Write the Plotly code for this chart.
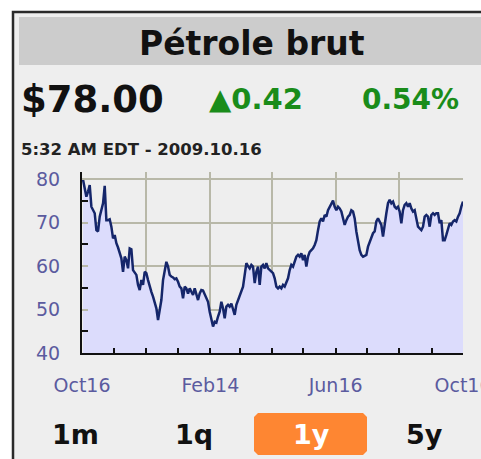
import pandas as pd
import plotly.graph_objects as go

# ---------------- data ----------------
start_date = "2008-10-17"
end_date = "2009-10-16"
prices = [
    79.9, 78.0, 76.0, 77.2, 78.7, 73.7, 72.9, 72.2, 68.3, 68.0,
    71.4, 72.9, 74.5, 78.5, 70.6, 70.6, 70.8, 69.1, 66.4, 67.2,
    65.3, 64.3, 63.0, 61.8, 58.7, 62.2, 61.4, 59.5, 64.1, 63.9,
    59.1, 58.4, 58.0, 55.7, 54.5, 56.8, 55.7, 58.7, 58.4, 56.8,
    55.3, 54.1, 53.0, 51.4, 50.3, 47.6, 49.5, 52.2, 56.8, 58.7,
    61.0, 59.9, 58.0, 57.6, 57.4, 57.0, 57.2, 56.4, 55.3, 54.9,
    52.6, 55.3, 54.9, 53.7, 54.9, 54.1, 53.4, 54.9, 53.7, 52.2,
    53.7, 54.5, 54.4, 53.4, 52.6, 51.8, 49.5, 47.6, 46.1, 47.2,
    47.0, 48.4, 49.5, 51.8, 50.3, 48.0, 50.7, 51.1, 50.7, 51.4,
    50.3, 48.8, 51.1, 52.2, 53.0, 54.5, 55.3, 58.0, 60.7, 60.0,
    59.5, 60.3, 59.9, 56.1, 58.7, 59.9, 55.7, 59.9, 60.3, 59.5,
    60.7, 59.5, 59.1, 58.7, 58.4, 57.2, 55.3, 54.9, 55.3, 54.9,
    55.7, 55.3, 56.1, 57.2, 59.1, 60.3, 59.9, 61.4, 62.2, 62.6,
    62.2, 63.0, 61.4, 62.6, 59.9, 62.2, 63.3, 63.7, 64.1, 64.9,
    66.0, 68.3, 70.3, 71.0, 70.3, 71.8, 71.4, 72.9, 73.7, 74.5,
    75.1, 73.7, 72.9, 73.7, 73.3, 72.6, 71.0, 69.5, 70.6, 71.4,
    71.8, 72.9, 72.6, 71.0, 68.0, 65.3, 63.7, 62.6, 62.2, 62.4,
    62.6, 64.5, 65.7, 66.4, 67.6, 68.0, 70.3, 71.0, 70.3, 69.5,
    66.8, 70.3, 72.2, 74.5, 75.3, 74.5, 74.9, 73.7, 73.3, 73.7,
    72.6, 69.9, 72.9, 74.1, 74.5, 73.7, 74.5, 73.3, 72.6, 72.9,
    71.0, 69.1, 68.7, 68.3, 69.1, 71.4, 71.8, 71.4, 69.1, 71.8,
    72.2, 71.8, 72.2, 72.2, 69.9, 70.6, 66.0, 66.0, 67.2, 68.7,
    69.9, 69.5, 70.3, 70.6, 70.3, 71.4, 72.2, 73.7, 74.9,
]
dates = pd.date_range(start_date, end_date, periods=len(prices))

grid_dates = ["2008-10-16", "2008-12-16", "2009-02-16", "2009-04-16",
              "2009-06-16", "2009-08-16", "2009-10-16"]
grid_labels = ["Oct16", "", "Feb14", "", "Jun16", "", "Oct16"]
month_dates = ["2008-11-16", "2009-01-16", "2009-03-16", "2009-05-16",
               "2009-07-16", "2009-09-16"]
y_tickvals = [40, 50, 60, 70, 80]
y_ticktext = ["40", "50", "60", "70", "80"]
y_minor = [45, 55, 65, 75]

title_text = "Pétrole brut"
price_text = "$78.00"
change_text = "▲0.42"
pct_text = "0.54%"
time_text = "5:32 AM EDT - 2009.10.16"
buttons = ["1m", "1q", "1y", "5y"]
active_button = "1y"

# ---------------- figure ----------------
W, H = 481, 459
def px(x):
    return x / W
def py(y):
    return 1 - y / H

fig = go.Figure(go.Scatter(
    x=dates, y=prices, mode="lines",
    line=dict(color="#15266a", width=2.5),
    fill="tozeroy", fillcolor="#dcdcfc",
    hoverinfo="skip",
))

axis_font = dict(family="DejaVu Sans", size=19, color="#5b5b9f")

fig.update_layout(
    width=W, height=H,
    margin=dict(l=0, r=0, t=0, b=0, pad=0),
    paper_bgcolor="white",
    plot_bgcolor="white",
    showlegend=False,
    xaxis=dict(
        domain=[px(82), px(463)],
        range=["2008-10-16", "2009-10-16"],
        tickmode="array", tickvals=grid_dates, ticktext=grid_labels,
        showgrid=True, gridcolor="#b8b8a8", gridwidth=2,
        ticks="inside", ticklen=5, tickwidth=2, tickcolor="#111111",
        showline=True, linecolor="#111111", linewidth=2,
        tickfont=axis_font, ticklabelstandoff=14, ticklabeloverflow="allow",
        minor=dict(tickmode="array", tickvals=month_dates, ticks="inside",
                   ticklen=5, tickwidth=2, tickcolor="#111111", showgrid=False),
        zeroline=False, fixedrange=True, automargin=False,
    ),
    yaxis=dict(
        domain=[py(353), py(172)],
        range=[40, 81.7],
        tickmode="array", tickvals=y_tickvals, ticktext=y_ticktext,
        showgrid=True, gridcolor="#b8b8a8", gridwidth=2,
        ticks="inside", ticklen=6, tickwidth=2, tickcolor="#b8b8a8",
        showline=True, linecolor="#111111", linewidth=2,
        tickfont=axis_font, ticklabelstandoff=16, ticklabeloverflow="allow",
        minor=dict(tickmode="array", tickvals=y_minor, ticks="inside",
                   ticklen=6, tickwidth=2, tickcolor="#111111", showgrid=False),
        zeroline=False, fixedrange=True, automargin=False,
    ),
)

shapes = [
    # panel with border
    dict(type="rect", xref="paper", yref="paper", layer="below",
         x0=px(13), x1=px(W + 20), y0=py(12), y1=py(H + 20),
         fillcolor="#eeeeee", line=dict(color="#2a2a2a", width=2.5)),
    # title bar
    dict(type="rect", xref="paper", yref="paper", layer="below",
         x0=px(19), x1=px(W + 20), y0=py(17), y1=py(65),
         fillcolor="#cccccc", line=dict(width=0)),
]
# active button (chamfered rectangle)
bx0, bx1, by0, by1, r = 254, 367, 413, 455, 4
path = (f"M {px(bx0 + r)},{py(by0)} L {px(bx1 - r)},{py(by0)} L {px(bx1)},{py(by0 + r)} "
        f"L {px(bx1)},{py(by1 - r)} L {px(bx1 - r)},{py(by1)} L {px(bx0 + r)},{py(by1)} "
        f"L {px(bx0)},{py(by1 - r)} L {px(bx0)},{py(by0 + r)} Z")
shapes.append(dict(type="path", xref="paper", yref="paper", layer="below",
                   path=path, fillcolor="#fe8632", line=dict(width=0)))
fig.update_layout(shapes=shapes)

ann = []
def add(text, x, y, size, color, xanchor="left", family="DejaVu Sans", bold=True):
    ann.append(dict(text=text, x=px(x), y=py(y), xref="paper", yref="paper",
                    xanchor=xanchor, yanchor="middle", showarrow=False,
                    font=dict(family=family, size=size, color=color,
                              weight="bold" if bold else "normal")))

add(title_text, 252, 43, 33, "#111111", xanchor="center")
add(price_text, 19, 99, 37, "#111111")
add(change_text, 207, 99, 29, "#1a8c1a")
add(pct_text, 461, 99, 28, "#1a8c1a", xanchor="right")
add(time_text, 19, 149, 16.5, "#222222")
btn_x = [75, 194, 311, 424]
for label, bx in zip(buttons, btn_x):
    add(label, bx, 434, 27, "white" if label == active_button else "#111111",
        xanchor="center")
fig.update_layout(annotations=ann)

fig.write_html(
    "out.html",
    config={"displayModeBar": False},
    post_script="document.body.style.margin='0';document.body.style.overflow='hidden';",
)
